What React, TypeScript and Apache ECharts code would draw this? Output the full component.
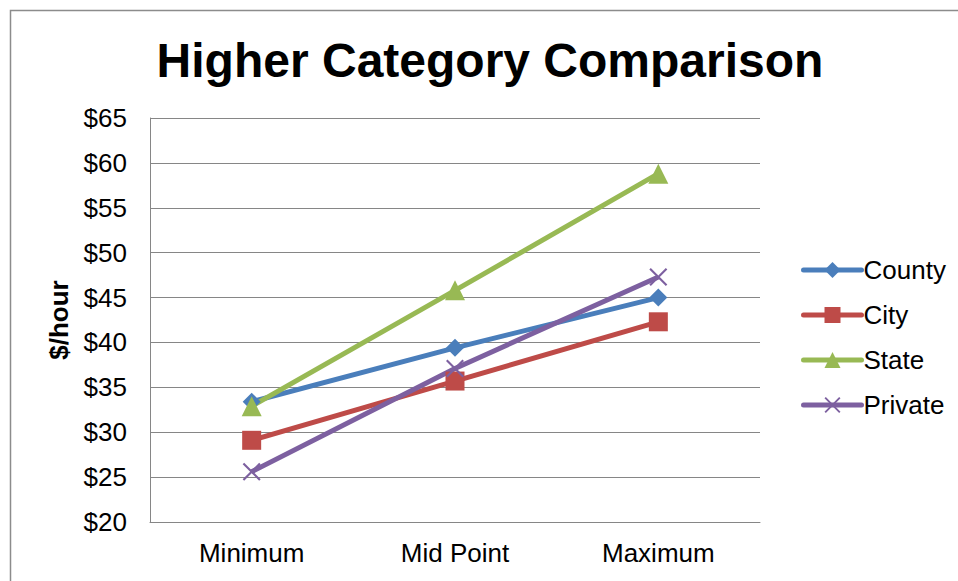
import React, { useEffect, useRef } from "react";
import * as echarts from "echarts";

const categories = ["Minimum", "Mid Point", "Maximum"];
const county = [33.4, 39.4, 45.0];
const city = [29.1, 35.7, 42.3];
const state = [32.9, 45.8, 58.8];
const privateSector = [25.6, 37.1, 47.3];

const FONT = "Liberation Sans, Arial, sans-serif";
const crossPath =
  "path://M0,1.5 L1.5,0 L9,7.5 L16.5,0 L18,1.5 L10.5,9 L18,16.5 L16.5,18 L9,10.5 L1.5,18 L0,16.5 L7.5,9 Z";

export default function App() {
  const ref = useRef<HTMLDivElement>(null);
  useEffect(() => {
    if (!ref.current) return;
    const chart = echarts.init(ref.current, undefined, { renderer: "svg" });
    const mk = (name: string, data: number[], color: string, symbol: string, size: number) => ({
      name,
      type: "line",
      data,
      color,
      symbol,
      symbolSize: size,
      showAllSymbol: true,
      lineStyle: { color, width: 5 },
      itemStyle: { color },
      emphasis: { disabled: true },
    });
    chart.setOption({
      animation: false,
      backgroundColor: "#ffffff",
      textStyle: { fontFamily: FONT },
      graphic: [
        {
          type: "rect",
          shape: { x: 10.5, y: 10.5, width: 1000, height: 1000 },
          style: { fill: "none", stroke: "#8c8c8c", lineWidth: 1.5 },
          silent: true,
        },
        {
          type: "text",
          x: 490,
          y: 60,
          style: {
            text: "Higher Category Comparison",
            font: `bold 48px ${FONT}`,
            fill: "#000",
            textAlign: "center",
            textVerticalAlign: "middle",
          },
        },
      ],
      grid: { left: 150, top: 118, width: 610, height: 404 },
      legend: {
        orient: "vertical",
        left: 796,
        top: 252,
        itemWidth: 58,
        itemHeight: 20,
        itemGap: 19,
        lineStyle: { width: 5, cap: "round" },
        textStyle: { fontSize: 26, color: "#000", fontFamily: FONT, padding: [0, 0, 0, -3] },
        data: ["County", "City", "State", "Private"],
      },
      xAxis: {
        type: "category",
        data: categories,
        boundaryGap: true,
        axisLine: { lineStyle: { color: "#868686", width: 1 } },
        axisTick: { show: false },
        axisLabel: { fontSize: 26, color: "#000", margin: 18, fontFamily: FONT },
      },
      yAxis: {
        type: "value",
        min: 20,
        max: 65,
        interval: 5,
        name: "$/hour",
        nameLocation: "middle",
        nameRotate: 90,
        nameGap: 78,
        nameTextStyle: { fontSize: 26, fontWeight: "bold", color: "#000", fontFamily: FONT },
        axisLine: { show: true, lineStyle: { color: "#868686", width: 1 } },
        axisTick: { show: false },
        splitLine: { lineStyle: { color: "#868686", width: 1 } },
        axisLabel: {
          fontSize: 26,
          color: "#000",
          margin: 23,
          fontFamily: FONT,
          formatter: (v: number) => "$" + v,
        },
      },
      series: [
        mk("County", county, "#4A7EBB", "diamond", 18),
        mk("City", city, "#BE4B48", "rect", 19),
        mk("State", state, "#98B954", "triangle", 20),
        mk("Private", privateSector, "#7D60A0", crossPath, 18),
      ],
    });
    return () => chart.dispose();
  }, []);
  return (
    <div
      ref={ref}
      style={{ position: "fixed", left: 0, top: 0, width: 958, height: 581 }}
    />
  );
}
